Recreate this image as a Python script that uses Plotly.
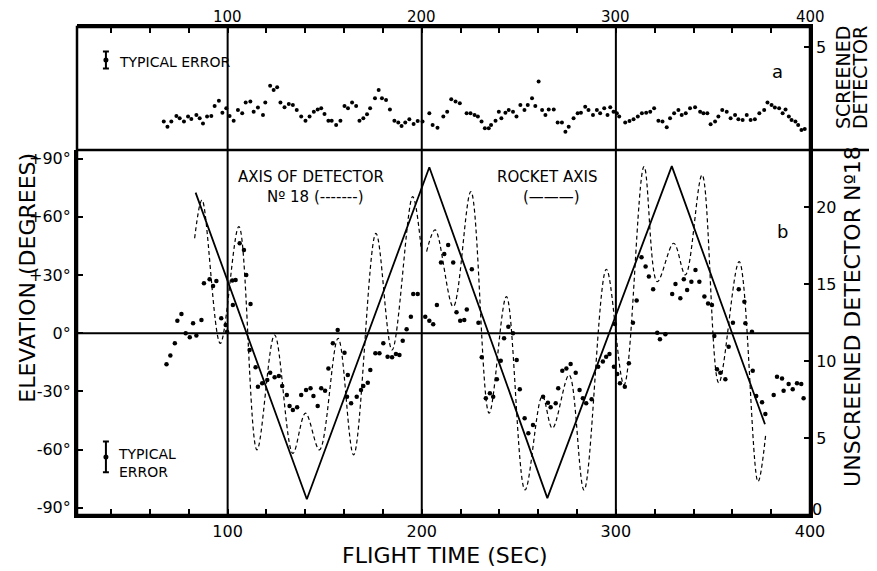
import plotly.graph_objects as go

# ---------------- data ----------------
# (a) screened detector counts
top_t = [67.1, 69.0, 71.0, 73.6, 75.3, 77.5, 79.6, 81.3, 83.9, 85.6,
         87.3, 89.4, 91.6, 93.3, 95.5, 97.3, 99.3, 101.0, 103.1, 105.3,
         107.5, 109.3, 111.7, 113.4, 115.6, 118.2, 119.4, 121.9, 123.7, 125.5,
         127.2, 129.3, 131.5, 133.6, 135.6, 137.9, 140.1, 142.2, 144.4, 146.4,
         148.2, 149.9, 151.9, 153.6, 155.9, 158.1, 160.2, 162.0, 164.1, 166.2,
         167.9, 169.9, 171.8, 173.4, 175.9, 177.8, 179.5, 181.6, 183.6, 185.9,
         187.9, 189.6, 191.5, 193.6, 195.8, 197.9, 200.4, 203.9, 205.6, 208.1,
         211.1, 213.1, 215.2, 217.4, 219.6, 223.1, 225.1, 227.2, 228.9, 230.8,
         232.5, 234.5, 235.7, 238.0, 239.7, 241.0, 243.1, 244.8, 247.0, 248.8,
         250.8, 252.9, 254.6, 256.8, 258.5, 260.2, 262.0, 263.7, 265.4, 268.0,
         270.0, 272.2, 274.0, 275.7, 278.2, 280.3, 282.0, 284.2, 285.9, 288.2,
         290.2, 291.9, 294.0, 295.7, 297.1, 298.8, 300.5, 301.7, 304.8, 307.0,
         309.1, 311.3, 313.4, 315.6, 317.7, 319.7, 321.9, 324.0, 326.2, 327.9,
         330.0, 332.2, 333.9, 336.0, 338.2, 340.8, 343.4, 345.1, 347.1, 348.8,
         351.1, 352.8, 354.8, 357.1, 359.1, 361.4, 363.1, 365.3, 367.4, 369.4,
         371.6, 373.9, 376.4, 378.1, 380.2, 381.9, 384.1, 385.9, 387.4, 389.1,
         390.5, 392.5, 393.9, 395.6, 397.3]
top_counts = [1.38, 1.13, 1.38, 1.65, 1.54, 1.38, 1.62, 1.50, 1.70, 1.54,
              1.29, 1.62, 1.65, 2.14, 2.39, 1.81, 2.02, 1.65, 1.42, 1.94,
              1.78, 2.31, 2.35, 1.86, 2.06, 1.70, 2.30, 3.12, 2.91, 3.04,
              2.31, 2.07, 2.23, 2.18, 1.94, 1.62, 1.42, 1.62, 1.86, 1.97,
              2.02, 1.75, 1.42, 1.42, 1.21, 1.42, 2.14, 2.02, 2.31, 2.14,
              1.42, 1.54, 1.73, 2.02, 2.51, 2.91, 2.51, 2.43, 1.97, 1.42,
              1.33, 1.17, 1.33, 1.49, 1.26, 1.41, 1.38, 1.78, 1.21, 1.08,
              1.62, 1.86, 2.46, 2.35, 2.27, 1.78, 1.78, 1.70, 1.62, 1.38,
              1.05, 1.05, 1.21, 1.42, 1.86, 1.54, 1.81, 1.94, 1.86, 1.62,
              2.18, 1.94, 2.18, 2.51, 2.14, 3.32, 1.94, 1.70, 1.97, 1.97,
              1.33, 1.33, 0.89, 1.13, 1.54, 1.78, 1.81, 2.10, 1.94, 1.70,
              1.94, 1.78, 2.02, 1.70, 2.07, 1.86, 1.78, 1.62, 1.33, 1.41,
              1.49, 1.62, 1.78, 1.81, 1.86, 2.02, 1.42, 1.38, 1.10, 1.54,
              1.78, 1.94, 1.70, 1.78, 2.02, 2.07, 1.86, 1.78, 1.78, 1.25,
              1.38, 1.62, 1.94, 1.86, 1.54, 1.70, 1.49, 1.46, 1.70, 1.46,
              1.49, 1.78, 1.94, 2.30, 2.18, 2.06, 2.02, 1.78, 1.97, 1.62,
              1.46, 1.38, 1.21, 0.97, 1.02]

# (b) unscreened detector No 18 counts
bot_t = [68.5, 70.5, 72.8, 74.1, 76.2, 78.4, 80.5, 82.2, 83.9, 86.5,
         87.8, 90.7, 92.5, 94.2, 96.7, 99.0, 99.7, 102.4, 102.7, 104.1,
         106.2, 108.4, 109.6, 111.8, 111.3, 114.4, 115.6, 117.8, 120.4, 121.9,
         124.2, 126.4, 128.1, 130.5, 131.9, 133.6, 135.8, 137.9, 140.4, 142.7,
         144.2, 146.4, 148.2, 150.2, 151.9,
         154.2, 156.7, 160.2, 161.9, 161.5, 163.6, 166.5, 168.7, 169.9, 172.2,
         173.5, 176.1, 178.2, 180.2, 182.4, 184.7, 186.7, 188.5, 190.2, 192.2,
         194.4, 195.6, 197.9, 201.8, 203.9, 205.9, 207.8, 209.9, 211.6, 213.6,
         216.2, 217.9, 219.8, 221.9, 223.2, 225.8, 229.2, 230.9, 233.0, 235.1,
         236.8, 238.7,
         240.7, 242.4, 244.6, 247.0, 248.9, 250.5, 253.0, 254.9, 257.3, 262.5,
         265.0, 266.4, 269.0, 270.3, 272.4, 274.5, 276.7, 279.3, 281.3, 283.0,
         284.7, 287.5, 290.9, 293.3, 295.0, 296.7, 299.0, 299.5, 300.7, 302.1,
         304.6, 306.7, 308.8, 310.7, 313.2, 315.3, 317.0, 319.2, 321.3, 322.7,
         325.5, 329.0, 330.7, 333.2, 335.0, 336.7, 338.9, 341.0, 343.0, 345.6,
         347.5, 349.5, 350.7, 352.1, 353.8, 356.4, 358.1, 360.3, 363.3, 366.2,
         366.7, 370.1, 370.5, 372.3, 375.3, 377.0, 381.3, 383.0, 385.6, 386.4,
         389.0, 391.1, 393.3, 395.5, 396.7]
bot_counts = [9.78, 10.35, 11.15, 12.62, 13.05, 11.80, 11.54, 12.45, 11.65, 12.66,
              15.04, 15.30, 14.87, 15.19, 12.77, 12.34, 11.90, 15.22, 13.64, 15.26,
              17.64, 17.21, 15.58, 13.70, 10.71, 9.59, 8.33, 8.55, 8.77, 9.24,
              8.94, 9.03, 8.38, 7.79, 7.08, 6.82, 6.99, 7.79, 8.12, 8.23,
              7.73, 7.08, 8.23, 8.07, 9.52,
              11.15, 12.01, 10.54, 9.09, 7.68, 7.25, 7.68, 8.12, 8.38, 8.59,
              9.42, 10.50, 10.50, 11.15, 10.28, 10.24, 10.45, 10.39, 11.32, 12.06,
              12.88, 14.35, 14.35, 12.88, 12.62, 12.38, 13.64, 16.39, 16.95, 17.53,
              16.39, 13.16, 12.62, 12.66, 13.35, 15.95, 12.49, 10.24, 7.58, 7.90,
              7.68, 8.81,
              10.02, 11.47, 12.23, 11.80, 10.06, 8.16, 6.28, 5.30, 5.84, 7.68,
              7.29, 6.99, 7.25, 8.23, 9.37, 9.52, 9.81, 9.24, 8.12, 7.58,
              7.25, 7.51, 9.63, 9.96, 10.28, 10.45, 9.63, 12.40, 9.16, 8.55,
              8.33, 9.85, 12.49, 13.92, 16.73, 16.13, 15.48, 14.65, 11.84, 11.41,
              11.73, 14.35, 15.00, 14.07, 15.30, 14.61, 15.15, 15.91, 15.15, 14.18,
              13.74, 13.64, 11.62, 9.46, 9.24, 8.81, 10.93, 12.49, 14.65, 13.85,
              12.45, 11.90, 9.37, 7.73, 7.32, 6.56, 7.79, 8.98, 8.87, 8.07,
              8.51, 8.16, 8.55, 8.51, 7.58]

# rocket axis elevation (solid line)
rocket_t = [83.5, 140.8, 203.9, 264.7, 328.8, 376.8]
rocket_deg = [72.5, -85.6, 85.6, -85.0, 86.2, -46.9]

# axis of detector No 18 elevation (dashed line)
det_t = [83.0, 86.8, 96.2, 105.8, 115.1, 124.2, 133.6, 140.1, 147.3, 156.9,
         164.9, 176.4, 184.7, 195.3, 199.6, None, 202.5, 206.9, 216.2, 225.3,
         234.7, 243.6, 253.2, 262.1, 267.3, 275.9, 283.6, 295.1, 304.2, 314.5,
         321.3, 329.8, 335.8, 344.4, 353.0, 363.5, 373.2, 377.2]
det_deg = [49.0, 68.7, -5.2, 55.0, -60.1, -0.9, -61.9, -41.2, -60.1, -2.6,
           -62.7, 51.5, -8.6, 70.4, 44.7, None, 42.1, 53.3, 13.7, 73.0,
           -41.2, 18.9, -80.8, -32.3, -49.0, -21.5, -80.8, 33.0, -26.6, 85.9,
           26.6, 46.4, 30.1, 81.6, -25.6, 36.9, -76.5, -52.0]

# typical error bars
typical_err_top = 0.41
typical_err_bot = 1.0

# ticks
time_ticks = list(range(40, 401, 20))
time_labels = [str(t) if t % 100 == 0 else "" for t in time_ticks]
top_time_labels = [100, 200, 300, 400]
deg_ticks = [-90, -60, -30, 0, 30, 60, 90]
deg_labels = ["-90°", "-60°", "-30°", "0°", "+30°", "+60°", "+90°"]
unscreened_ticks = [0, 5, 10, 15, 20]
unscreened_labels = ["", "5", "10", "15", "20"]   # "0" is written separately below
screened_ticks = [5]
grid_times = [100, 200, 300]

# ---------------- styling / layout ----------------
FONT = "DejaVu Sans"
INK = "black"
X_RANGE = [22.4, 400]
SPLIT = 0.748
ERR_X = 37.3
ERR_TOP_Y = 4.37
ERR_BOT_Y = 3.77
PAGE_OFFSET = 8  # default body margin of the html page

fig = go.Figure()

fig.add_trace(go.Scatter(x=top_t, y=top_counts, mode="markers", xaxis="x2", yaxis="y",
                         marker=dict(color=INK, size=4), hoverinfo="skip"))
fig.add_trace(go.Scatter(x=rocket_t, y=rocket_deg, mode="lines", xaxis="x", yaxis="y2",
                         line=dict(color=INK, width=1.8), hoverinfo="skip"))
fig.add_trace(go.Scatter(x=det_t, y=det_deg, mode="lines", xaxis="x", yaxis="y2",
                         line=dict(color=INK, width=1.2, dash="4px,3px", shape="spline",
                                   smoothing=1.0),
                         connectgaps=False, hoverinfo="skip"))
fig.add_trace(go.Scatter(x=bot_t, y=bot_counts, mode="markers", xaxis="x", yaxis="y3",
                         marker=dict(color=INK, size=4.5), hoverinfo="skip"))
# typical error symbols
fig.add_trace(go.Scatter(x=[ERR_X], y=[ERR_TOP_Y], mode="markers", xaxis="x2", yaxis="y",
                         marker=dict(color=INK, size=5),
                         error_y=dict(type="constant", value=typical_err_top, color=INK,
                                      thickness=2, width=3), hoverinfo="skip"))
fig.add_trace(go.Scatter(x=[ERR_X], y=[ERR_BOT_Y], mode="markers", xaxis="x", yaxis="y3",
                         marker=dict(color=INK, size=5),
                         error_y=dict(type="constant", value=typical_err_bot, color=INK,
                                      thickness=2, width=3), hoverinfo="skip"))

tickfont = dict(family=FONT, size=16, color=INK)
common_x = dict(range=X_RANGE, tickvals=time_ticks, ticktext=time_labels, ticks="inside",
                ticklen=6, tickwidth=2, tickcolor=INK, showgrid=False, zeroline=False,
                showline=True, linewidth=3, linecolor=INK, automargin=False)

shapes = []
for t in grid_times:
    shapes.append(dict(type="line", xref="x", yref="paper", x0=t, x1=t, y0=0, y1=1,
                       line=dict(color=INK, width=2)))
shapes.append(dict(type="line", xref="paper", yref="y2", x0=0, x1=1, y0=0, y1=0,
                   line=dict(color=INK, width=2)))
shapes.append(dict(type="line", xref="paper", yref="paper", x0=0, x1=1.0914, y0=SPLIT, y1=SPLIT,
                   line=dict(color=INK, width=2.5)))
shapes.append(dict(type="rect", xref="paper", yref="paper", x0=0, x1=1, y0=0, y1=1,
                   line=dict(color=INK, width=2.5)))

def ann(text, x, y, size=15, angle=0, xanchor="center", align="center", xref="paper"):
    return dict(text=text, x=x, y=y, xref=xref, yref="paper", showarrow=False,
                textangle=angle, xanchor=xanchor, yanchor="middle", align=align,
                font=dict(family=FONT, size=size, color=INK))

annotations = [
    ann("ELEVATION (DEGREES)", -0.067, 0.486, size=22, angle=-90),
    ann("UNSCREENED DETECTOR Nº18", 1.0587, 0.406, size=22, angle=-90),
    ann("SCREENED", 1.0450, 0.8975, size=19, angle=-90),
    ann("DETECTOR", 1.0682, 0.8975, size=19, angle=-90),
    ann("FLIGHT TIME (SEC)", 0.502, -0.082, size=22),
    ann("a", 0.955, 0.908, size=18),
    ann("b", 0.963, 0.58, size=18),
    ann("AXIS OF DETECTOR", 0.217, 0.693, size=15, xanchor="left"),
    ann("Nº 18 (-------)", 0.256, 0.652, size=15, xanchor="left"),
    ann("ROCKET AXIS", 0.570, 0.693, size=15, xanchor="left"),
    ann("(———)", 0.647, 0.652, size=15),
    ann("TYPICAL ERROR", 0.0546, 0.928, size=14, xanchor="left"),
    ann("TYPICAL<br>ERROR", 0.053, 0.1066, size=14, xanchor="left", align="left"),
    ann("0", 1.0, 0.011, size=16, xanchor="left"),
]
# top time-axis labels
for t in top_time_labels:
    annotations.append(ann(str(t), t, 1.0215, size=15, xref="x"))

fig.update_layout(
    width=877 - PAGE_OFFSET, height=571 - PAGE_OFFSET,
    margin=dict(l=77 - PAGE_OFFSET, r=67, t=27 - PAGE_OFFSET, b=56, autoexpand=False),
    paper_bgcolor="white", plot_bgcolor="white",
    showlegend=False,
    font=dict(family=FONT, color=INK),
    xaxis=dict(domain=[0, 1], anchor="y2", side="bottom", tickfont=tickfont, **common_x),
    xaxis2=dict(domain=[0, 1], anchor="y", side="top", matches="x", showticklabels=False,
                **common_x),
    yaxis=dict(domain=[SPLIT, 1], anchor="x2", side="right", range=[0, 5.97],
               tickvals=screened_ticks, ticks="inside", ticklen=6, tickwidth=2, tickcolor=INK,
               showgrid=False, zeroline=False, showline=True, linewidth=2.5, linecolor=INK,
               tickfont=tickfont, automargin=False),
    yaxis2=dict(domain=[0, SPLIT], anchor="x", side="left", range=[-93.7, 94.5],
                tickvals=deg_ticks, ticktext=deg_labels, ticks="inside", ticklen=6,
                tickwidth=2, tickcolor=INK, showgrid=False, zeroline=False, showline=True,
                linewidth=3, linecolor=INK, tickfont=tickfont, automargin=False),
    yaxis3=dict(overlaying="y2", anchor="x", side="right", range=[0, 23.7],
                tickvals=unscreened_ticks, ticktext=unscreened_labels, ticks="inside",
                ticklen=6, tickwidth=2, tickcolor=INK, showgrid=False, zeroline=False,
                showline=True, linewidth=3, linecolor=INK, tickfont=tickfont,
                automargin=False),
    shapes=shapes,
    annotations=annotations,
)

fig.write_html("out.html")
